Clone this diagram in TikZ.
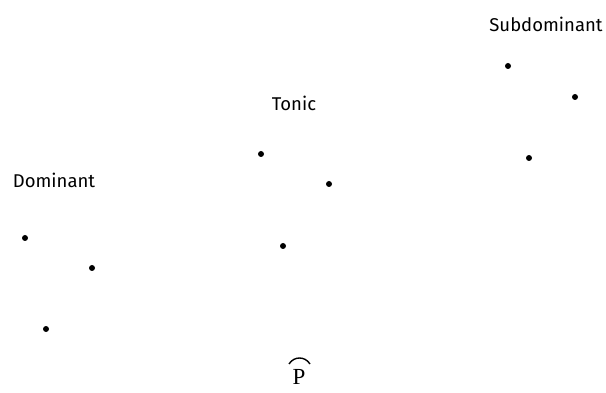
\documentclass[tikz,border=0pt]{standalone}
\usepackage{fontspec}
\setmainfont{Fira Sans}
\newfontfamily\serifp{Liberation Serif}
\begin{document}
\begin{tikzpicture}[x=1pt,y=-1pt,
  dot/.style={circle,fill=black,inner sep=0pt,minimum size=6pt},
  lab/.style={font=\fontsize{18.5}{22}\selectfont,inner sep=0pt}]
\useasboundingbox (0,0) rectangle (606,393);
\node[lab] (dom) at (54,180) {Dominant};
\node[lab] (ton) at (294,103) {Tonic};
\node[lab] (sub) at (546,24) {Subdominant};
\node[dot] (d1) at (25,238) {};
\node[dot] (d2) at (92,268) {};
\node[dot] (d3) at (46,329) {};
\node[dot] (t1) at (261,154) {};
\node[dot] (t2) at (329,184) {};
\node[dot] (t3) at (283,246) {};
\node[dot] (s1) at (508,66) {};
\node[dot] (s2) at (575,97) {};
\node[dot] (s3) at (529,158) {};
\node[inner sep=0pt,font=\serifp\fontsize{23}{26}\selectfont] (p) at (299,377) {P};
\draw[line width=1.4pt] (289,364) .. controls (294,356) and (305,356) .. (310,364);
\end{tikzpicture}
\end{document}
